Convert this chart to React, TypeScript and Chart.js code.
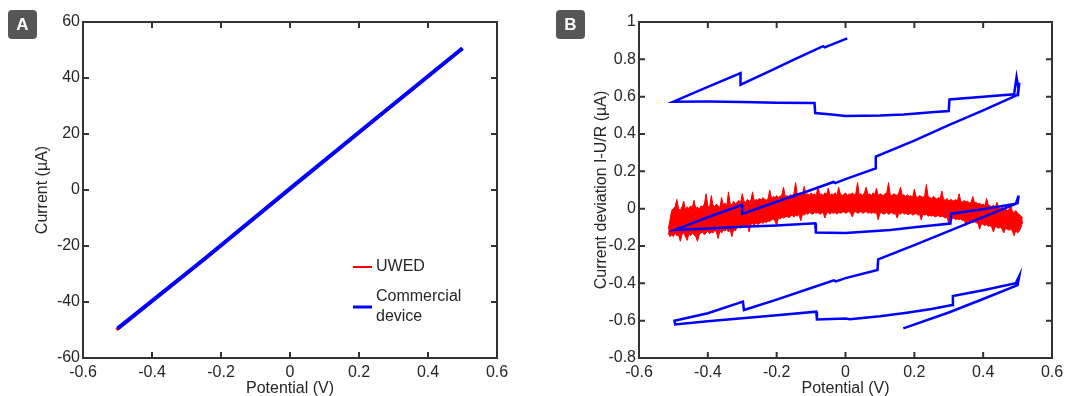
import React, { useEffect, useRef } from "react";
import { Chart, registerables } from "chart.js";
Chart.register(...registerables);

const FONT = "'Liberation Sans', Arial, sans-serif";
const TEXT = "#262626";
const FRAME = "#333333";
const RED = "#ff0000";
const BLUE = "#0000ff";

// ---------- Panel A data ----------
const potentialA = [-0.5, -0.25, 0.0, 0.25, 0.5];
const commercialA = [-49.5, -24.8, 0.5, 25.6, 50.6];
const uwedPotA = [-0.503, -0.25, 0.0, 0.25, 0.5];
const uwedA = [-49.9, -24.9, 0.4, 25.5, 50.5];

// ---------- Shared ticks ----------
const xTicks = [-0.6, -0.4, -0.2, 0, 0.2, 0.4, 0.6];
const xTickLabels = ["-0.6", "-0.4", "-0.2", "0", "0.2", "0.4", "0.6"];
const yTicksA = [-60, -40, -20, 0, 20, 40, 60];
const yTickLabelsA = ["-60", "-40", "-20", "0", "20", "40", "60"];
const yTicksB = [-0.8, -0.6, -0.4, -0.2, 0, 0.2, 0.4, 0.6, 0.8, 1];
const yTickLabelsB = ["-0.8", "-0.6", "-0.4", "-0.2", "0", "0.2", "0.4", "0.6", "0.8", "1"];
const legendNames = [["UWED"], ["Commercial", "device"]];

// ---------- Panel B data ----------
// UWED deviation: upper / lower envelope of the noisy trace
const uwedPotB = [
  -0.515, -0.51, -0.505, -0.5, -0.495, -0.49, -0.485, -0.48, -0.475, -0.47, -0.465, -0.46, -0.455, -0.45, -0.445, -0.44, -0.435, -0.43, -0.425, -0.42,
  -0.415, -0.41, -0.405, -0.4, -0.395, -0.39, -0.385, -0.38, -0.375, -0.37, -0.365, -0.36, -0.355, -0.35, -0.345, -0.34, -0.335, -0.33, -0.325, -0.32,
  -0.315, -0.31, -0.305, -0.3, -0.295, -0.29, -0.285, -0.28, -0.275, -0.27, -0.265, -0.26, -0.255, -0.25, -0.245, -0.24, -0.235, -0.23, -0.225, -0.22,
  -0.215, -0.21, -0.205, -0.2, -0.195, -0.19, -0.185, -0.18, -0.175, -0.17, -0.165, -0.16, -0.155, -0.15, -0.145, -0.14, -0.135, -0.13, -0.125, -0.12,
  -0.115, -0.11, -0.105, -0.1, -0.095, -0.09, -0.085, -0.08, -0.075, -0.07, -0.065, -0.06, -0.055, -0.05, -0.045, -0.04, -0.035, -0.03, -0.025, -0.02,
  -0.015, -0.01, -0.005, 0.0, 0.005, 0.01, 0.015, 0.02, 0.025, 0.03, 0.035, 0.04, 0.045, 0.05, 0.055, 0.06, 0.065, 0.07, 0.075, 0.08,
  0.085, 0.09, 0.095, 0.1, 0.105, 0.11, 0.115, 0.12, 0.125, 0.13, 0.135, 0.14, 0.145, 0.15, 0.155, 0.16, 0.165, 0.17, 0.175, 0.18,
  0.185, 0.19, 0.195, 0.2, 0.205, 0.21, 0.215, 0.22, 0.225, 0.23, 0.235, 0.24, 0.245, 0.25, 0.255, 0.26, 0.265, 0.27, 0.275, 0.28,
  0.285, 0.29, 0.295, 0.3, 0.305, 0.31, 0.315, 0.32, 0.325, 0.33, 0.335, 0.34, 0.345, 0.35, 0.355, 0.36, 0.365, 0.37, 0.375, 0.38,
  0.385, 0.39, 0.395, 0.4, 0.405, 0.41, 0.415, 0.42, 0.425, 0.43, 0.435, 0.44, 0.445, 0.45, 0.455, 0.46, 0.465, 0.47, 0.475, 0.48,
  0.485, 0.49, 0.495, 0.5, 0.505, 0.51, 0.515,
];
const uwedUpperB = [
  -0.11, -0.06, -0.01, 0.0, 0.01, 0.05, 0.0, -0.01, 0.01, 0.04, -0.005, 0.01, 0.0, 0.015, 0.005, 0.045, 0.0, 0.01, -0.005, 0.015,
  0.01, 0.025, 0.08, 0.015, 0.005, 0.07, 0.02, 0.01, 0.025, 0.015, 0.005, 0.06, 0.02, 0.03, 0.015, 0.09, 0.025, 0.02, 0.04, 0.025,
  0.035, 0.045, 0.03, 0.08, 0.04, 0.035, 0.05, 0.04, 0.045, 0.09, 0.04, 0.05, 0.045, 0.055, 0.045, 0.06, 0.05, 0.045, 0.055, 0.1,
  0.055, 0.065, 0.06, 0.07, 0.06, 0.065, 0.075, 0.115, 0.065, 0.07, 0.065, 0.075, 0.07, 0.08, 0.14, 0.075, 0.07, 0.08, 0.075, 0.12,
  0.075, 0.08, 0.07, 0.085, 0.075, 0.08, 0.07, 0.12, 0.075, 0.08, 0.07, 0.085, 0.075, 0.11, 0.07, 0.08, 0.075, 0.085, 0.07, 0.115,
  0.08, 0.07, 0.075, 0.085, 0.07, 0.08, 0.075, 0.085, 0.075, 0.08, 0.14, 0.075, 0.08, 0.07, 0.085, 0.115, 0.075, 0.08, 0.07, 0.085,
  0.075, 0.11, 0.07, 0.08, 0.075, 0.07, 0.08, 0.085, 0.14, 0.075, 0.07, 0.08, 0.075, 0.07, 0.085, 0.115, 0.07, 0.075, 0.065, 0.075,
  0.065, 0.07, 0.06, 0.105, 0.065, 0.06, 0.07, 0.065, 0.06, 0.07, 0.13, 0.065, 0.06, 0.055, 0.065, 0.06, 0.05, 0.06, 0.055, 0.095,
  0.05, 0.045, 0.055, 0.04, 0.05, 0.045, 0.04, 0.05, 0.04, 0.08, 0.04, 0.035, 0.045, 0.035, 0.04, 0.03, 0.035, 0.065, 0.03, 0.035,
  0.025, 0.03, 0.02, 0.025, 0.015, 0.055, 0.02, 0.015, 0.01, 0.02, 0.005, 0.035, 0.005, 0.0, 0.01, -0.005, 0.0, -0.01, -0.005, 0.02,
  -0.015, -0.02, -0.01, -0.025, -0.03, -0.04, -0.05,
];
const uwedLowerB = [
  -0.13, -0.15, -0.14, -0.15, -0.13, -0.145, -0.14, -0.175, -0.14, -0.13, -0.15, -0.17, -0.135, -0.145, -0.13, -0.14, -0.15, -0.175, -0.14, -0.13,
  -0.125, -0.14, -0.13, -0.12, -0.135, -0.125, -0.13, -0.115, -0.125, -0.16, -0.12, -0.13, -0.115, -0.12, -0.11, -0.125, -0.115, -0.15, -0.11, -0.12,
  -0.1, -0.09, -0.105, -0.095, -0.09, -0.1, -0.085, -0.125, -0.085, -0.08, -0.09, -0.075, -0.085, -0.08, -0.07, -0.08, -0.07, -0.075, -0.065, -0.07,
  -0.06, -0.055, -0.065, -0.09, -0.05, -0.055, -0.045, -0.05, -0.045, -0.04, -0.05, -0.04, -0.035, -0.045, -0.035, -0.04, -0.03, -0.065, -0.03, -0.035,
  -0.025, -0.03, -0.02, -0.025, -0.03, -0.02, -0.025, -0.02, -0.03, -0.025, -0.02, -0.05, -0.025, -0.02, -0.03, -0.02, -0.025, -0.02, -0.03, -0.02,
  -0.025, -0.02, -0.015, -0.025, -0.02, -0.015, -0.025, -0.045, -0.02, -0.015, -0.025, -0.02, -0.015, -0.025, -0.02, -0.015, -0.025, -0.02, -0.025, -0.02,
  -0.025, -0.02, -0.06, -0.025, -0.02, -0.03, -0.025, -0.02, -0.03, -0.025, -0.02, -0.03, -0.025, -0.05, -0.025, -0.03, -0.02, -0.03, -0.025, -0.03,
  -0.03, -0.025, -0.035, -0.03, -0.025, -0.035, -0.03, -0.06, -0.03, -0.035, -0.03, -0.04, -0.035, -0.04, -0.035, -0.045, -0.04, -0.035, -0.045, -0.04,
  -0.045, -0.05, -0.045, -0.08, -0.05, -0.055, -0.05, -0.06, -0.055, -0.06, -0.055, -0.065, -0.06, -0.09, -0.065, -0.07, -0.065, -0.075, -0.07, -0.075,
  -0.08, -0.11, -0.08, -0.085, -0.09, -0.085, -0.095, -0.09, -0.1, -0.125, -0.095, -0.1, -0.105, -0.1, -0.11, -0.13, -0.105, -0.11, -0.115, -0.11,
  -0.12, -0.145, -0.115, -0.13, -0.12, -0.1, -0.07,
];
// Commercial device deviation trace (in sweep order)
const commPotB = [
  0.005, -0.055, -0.06, -0.065, -0.15, -0.22, -0.305, -0.305, -0.4, -0.5,
  -0.4, -0.3, -0.2, -0.09, -0.088, -0.04, 0.0, 0.1, 0.17, 0.25, 0.3, 0.302, 0.4, 0.49, 0.497, 0.503, 0.505, 0.5,
  0.4, 0.3, 0.2, 0.088, 0.088, 0.0, -0.03, -0.035, -0.1, -0.2, -0.298, -0.3, -0.4, -0.495,
  -0.4, -0.3, -0.2, -0.088, -0.086, 0.0, 0.13, 0.2, 0.305, 0.307, 0.4, 0.495, 0.503, 0.5,
  0.4, 0.3, 0.2, 0.095, 0.093, 0.0, -0.028, -0.034, -0.1, -0.2, -0.295, -0.298, -0.4, -0.497, -0.495,
  -0.4, -0.3, -0.2, -0.085, -0.083, 0.0, 0.013, 0.1, 0.178, 0.25, 0.31, 0.312, 0.4, 0.495, 0.505, 0.5,
  0.4, 0.3, 0.168,
];
const commDevB = [
  0.912, 0.868, 0.864, 0.871, 0.798, 0.737, 0.664, 0.726, 0.652, 0.573,
  0.574, 0.572, 0.568, 0.566, 0.512, 0.505, 0.497, 0.499, 0.505, 0.516, 0.523, 0.585, 0.6, 0.613, 0.705, 0.64, 0.675, 0.61,
  0.527, 0.447, 0.365, 0.279, 0.216, 0.158, 0.137, 0.143, 0.1, 0.037, -0.027, 0.021, -0.046, -0.114,
  -0.106, -0.097, -0.09, -0.078, -0.128, -0.131, -0.114, -0.1, -0.08, -0.027, -0.003, 0.027, 0.07, 0.03,
  -0.045, -0.12, -0.195, -0.271, -0.328, -0.372, -0.39, -0.384, -0.425, -0.487, -0.543, -0.498, -0.56, -0.6, -0.62,
  -0.603, -0.587, -0.571, -0.552, -0.594, -0.588, -0.592, -0.576, -0.557, -0.538, -0.516, -0.468, -0.437, -0.399, -0.36, -0.41,
  -0.484, -0.556, -0.641,
];

const pts = (xs: number[], ys: number[]) => xs.map((x, i) => ({ x, y: ys[i] }));

function decorPlugin(badge: string, badgeX: number, yTicks: number[], legend: boolean) {
  return {
    id: "decor" + badge,
    afterDatasetsDraw(chart: any) {
      const { ctx, chartArea: a, scales } = chart;
      const xs = scales.x;
      const ys = scales.y;
      ctx.save();
      ctx.strokeStyle = FRAME;
      ctx.lineWidth = 2;
      ctx.lineCap = "butt";
      const tl = 6;
      ctx.beginPath();
      xTicks.forEach((v) => {
        const p = xs.getPixelForValue(v);
        ctx.moveTo(p, a.bottom);
        ctx.lineTo(p, a.bottom - tl);
        ctx.moveTo(p, a.top);
        ctx.lineTo(p, a.top + tl);
      });
      yTicks.forEach((v) => {
        const p = ys.getPixelForValue(v);
        ctx.moveTo(a.left, p);
        ctx.lineTo(a.left + tl, p);
        ctx.moveTo(a.right, p);
        ctx.lineTo(a.right - tl, p);
      });
      ctx.stroke();
      ctx.strokeRect(a.left, a.top, a.right - a.left, a.bottom - a.top);

      // panel badge
      const bw = 29, bh = 29, bx = badgeX, by = 10, r = 4;
      ctx.fillStyle = "#565656";
      ctx.beginPath();
      ctx.moveTo(bx + r, by);
      ctx.arcTo(bx + bw, by, bx + bw, by + bh, r);
      ctx.arcTo(bx + bw, by + bh, bx, by + bh, r);
      ctx.arcTo(bx, by + bh, bx, by, r);
      ctx.arcTo(bx, by, bx + bw, by, r);
      ctx.closePath();
      ctx.fill();
      ctx.fillStyle = "#ffffff";
      ctx.font = "bold 17px " + FONT;
      ctx.textAlign = "center";
      ctx.textBaseline = "middle";
      ctx.fillText(badge, bx + bw / 2, by + bh / 2 + 1);

      if (legend) {
        ctx.font = "16px " + FONT;
        ctx.textAlign = "left";
        ctx.fillStyle = TEXT;
        ctx.strokeStyle = RED;
        ctx.lineWidth = 2;
        ctx.beginPath();
        ctx.moveTo(353, 267);
        ctx.lineTo(372, 267);
        ctx.stroke();
        ctx.fillText(legendNames[0][0], 376, 267);
        ctx.strokeStyle = BLUE;
        ctx.lineWidth = 3;
        ctx.beginPath();
        ctx.moveTo(353, 307);
        ctx.lineTo(372, 307);
        ctx.stroke();
        ctx.fillText(legendNames[1][0], 376, 297);
        ctx.fillText(legendNames[1][1], 376, 317);
      }
      ctx.restore();
    },
  };
}

function xScale() {
  return {
    type: "linear",
    min: -0.6,
    max: 0.6,
    afterBuildTicks: (s: any) => {
      s.ticks = xTicks.map((v) => ({ value: v }));
    },
    afterFit: (s: any) => {
      s.height = 38;
    },
    grid: { display: false, drawTicks: false },
    border: { display: false },
    ticks: {
      autoSkip: false,
      maxRotation: 0,
      padding: 5,
      color: TEXT,
      font: { size: 16, family: FONT },
      callback: (_v: any, i: number) => xTickLabels[i],
    },
    title: {
      display: true,
      text: "Potential (V)",
      color: TEXT,
      font: { size: 16, family: FONT, lineHeight: 1 },
      padding: { top: 0, bottom: -1 },
    },
  };
}

function yScale(min: number, max: number, ticks: number[], labels: string[], width: number, title: string, titlePad: number) {
  return {
    type: "linear",
    min,
    max,
    afterBuildTicks: (s: any) => {
      s.ticks = ticks.map((v) => ({ value: v }));
    },
    afterFit: (s: any) => {
      s.width = width;
    },
    grid: { display: false, drawTicks: false },
    border: { display: false },
    ticks: {
      autoSkip: false,
      padding: 3,
      color: TEXT,
      font: { size: 16, family: FONT },
      callback: (_v: any, i: number) => labels[i],
    },
    title: {
      display: true,
      text: title,
      color: TEXT,
      font: { size: 16, family: FONT, lineHeight: 1 },
      padding: { top: titlePad, bottom: 0 },
    },
  };
}

function configA(): any {
  return {
    type: "line",
    data: {
      datasets: [
        {
          label: "Commercial device",
          data: pts(potentialA, commercialA),
          borderColor: BLUE,
          borderWidth: 4,
          pointRadius: 0,
          fill: false,
          order: 0,
        },
        {
          label: "UWED",
          data: pts(uwedPotA, uwedA),
          borderColor: RED,
          borderWidth: 3,
          pointRadius: 0,
          fill: false,
          order: 1,
        },
      ],
    },
    options: {
      animation: false,
      responsive: false,
      devicePixelRatio: 1,
      layout: { padding: { top: 22, right: 43, left: 0, bottom: 0 } },
      plugins: { legend: { display: false }, tooltip: { enabled: false } },
      elements: { line: { tension: 0 } },
      scales: {
        x: xScale(),
        y: yScale(-60, 60, yTicksA, yTickLabelsA, 83, "Current (\u00b5A)", 35),
      },
    },
    plugins: [decorPlugin("A", 8, yTicksA, true)],
  };
}

function configB(): any {
  return {
    type: "line",
    data: {
      datasets: [
        {
          label: "UWED upper",
          data: pts(uwedPotB, uwedUpperB),
          borderColor: RED,
          borderWidth: 1,
          pointRadius: 0,
          fill: false,
          order: 2,
        },
        {
          label: "UWED lower",
          data: pts(uwedPotB, uwedLowerB),
          borderColor: RED,
          backgroundColor: RED,
          borderWidth: 1,
          pointRadius: 0,
          fill: "-1",
          order: 1,
        },
        {
          label: "Commercial device",
          data: pts(commPotB, commDevB),
          borderColor: BLUE,
          borderWidth: 2.5,
          pointRadius: 0,
          fill: false,
          order: 0,
        },
      ],
    },
    options: {
      animation: false,
      responsive: false,
      devicePixelRatio: 1,
      layout: { padding: { top: 22, right: 27, left: 0, bottom: 0 } },
      plugins: { legend: { display: false }, tooltip: { enabled: false } },
      elements: { line: { tension: 0 } },
      scales: {
        x: xScale(),
        y: yScale(-0.8, 1, yTicksB, yTickLabelsB, 99, "Current deviation I-U/R (\u00b5A)", 54),
      },
    },
    plugins: [decorPlugin("B", 16, yTicksB, false)],
  };
}

function Panel({ make, left, width }: { make: () => any; left: number; width: number }) {
  const ref = useRef<HTMLCanvasElement>(null);
  useEffect(() => {
    const chart = new Chart(ref.current as HTMLCanvasElement, make());
    return () => chart.destroy();
  }, []);
  return (
    <canvas
      ref={ref}
      width={width}
      height={396}
      style={{ position: "absolute", left, top: 0, width, height: 396, display: "block" }}
    />
  );
}

export default function App() {
  return (
    <div style={{ position: "absolute", left: 0, top: 0, width: 1079, height: 396, background: "#ffffff" }}>
      <Panel make={configA} left={0} width={540} />
      <Panel make={configB} left={540} width={539} />
    </div>
  );
}
